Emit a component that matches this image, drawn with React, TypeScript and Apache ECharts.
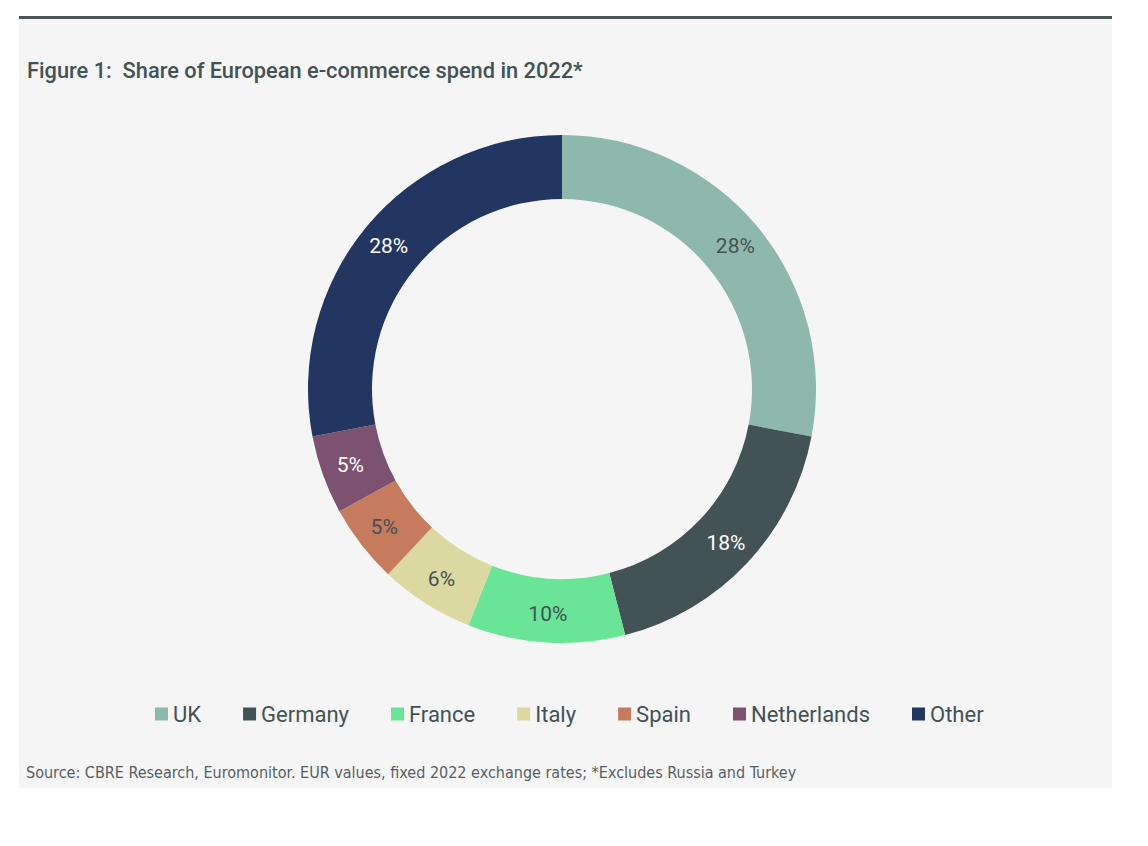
import React, { useEffect, useRef } from "react";
import * as echarts from "echarts";

const categories = ["UK", "Germany", "France", "Italy", "Spain", "Netherlands", "Other"];
const values = [28, 18, 10, 6, 5, 5, 28];
const colors = ["#8FB8AC", "#435254", "#6AE597", "#DCD8A2", "#C67B5E", "#7D5170", "#233561"];
const labelColors = ["#435254", "#FFFFFF", "#435254", "#435254", "#435254", "#FFFFFF", "#FFFFFF"];

const titleText = "Figure 1:  Share of European e-commerce spend in 2022*";
const sourceText =
  "Source: CBRE Research, Euromonitor. EUR values, fixed 2022 exchange rates; *Excludes Russia and Turkey";

export default function App() {
  const ref = useRef<HTMLDivElement>(null);
  useEffect(() => {
    if (!ref.current) return;
    const chart = echarts.init(ref.current, null, { renderer: "svg" });
    chart.setOption({
      animation: false,
      backgroundColor: "#FFFFFF",
      graphic: [
        { type: "rect", shape: { x: 19, y: 19, width: 1093, height: 769 }, style: { fill: "#F5F5F5" }, z: -10 },
        { type: "rect", shape: { x: 19, y: 16, width: 1093, height: 3 }, style: { fill: "#4A5558" }, z: -9 },
        {
          type: "text",
          x: 27,
          y: 70,
          style: {
            text: titleText,
            fill: "#435254",
            font: "500 21.8px Roboto",
            verticalAlign: "middle",
          },
        },
        {
          type: "text",
          x: 26,
          y: 772,
          style: {
            text: sourceText,
            fill: "#555F61",
            font: "16px 'Liberation Sans Narrow', 'DejaVu Sans Condensed', sans-serif",
            verticalAlign: "middle",
          },
        },
      ],
      legend: {
        left: 155,
        top: 703,
        padding: 0,
        icon: "rect",
        itemWidth: 13,
        itemHeight: 13,
        itemGap: 42,
        textStyle: { fontSize: 22, color: "#435254", fontFamily: "Roboto" },
        data: categories,
      },
      series: [
        {
          type: "pie",
          center: [562, 389],
          radius: [190, 254],
          startAngle: 90,
          clockwise: true,
          label: {
            show: true,
            position: "inside",
            fontSize: 21,
            fontFamily: "Roboto",
            formatter: "{c}%",
          },
          labelLine: { show: false },
          emphasis: { disabled: true },
          data: categories.map((name, i) => ({
            name,
            value: values[i],
            itemStyle: { color: colors[i] },
            label: { color: labelColors[i] },
          })),
        },
      ],
    });
    return () => chart.dispose();
  }, []);
  return (
    <div
      ref={ref}
      style={{ position: "fixed", left: 0, top: 0, width: 1148, height: 846 }}
    />
  );
}
